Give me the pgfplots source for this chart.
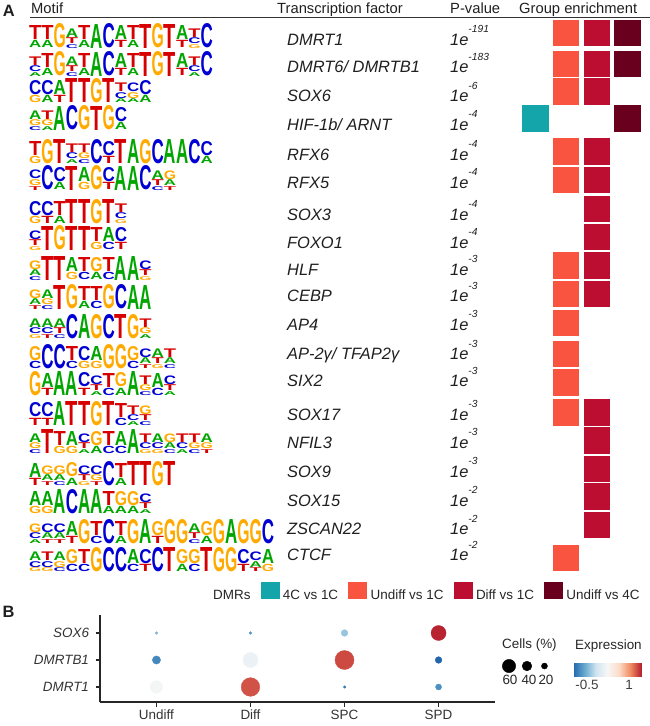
\documentclass[border=0pt]{standalone}
\usepackage{pgfplots}
\pgfplotsset{compat=1.18}
\usepackage{graphicx}
\usepackage{fontspec}
\setmainfont{Liberation Sans}

% nucleotide colours
\definecolor{ntA}{RGB}{0,165,0}
\definecolor{ntC}{RGB}{0,0,210}
\definecolor{ntG}{RGB}{255,170,0}
\definecolor{ntT}{RGB}{215,0,0}
% DMR groups
\definecolor{g4c}{RGB}{20,165,170}
\definecolor{gu1}{RGB}{248,84,64}
\definecolor{gd1}{RGB}{188,14,48}
\definecolor{gu4}{RGB}{104,0,30}

\pgfplotsset{colormap={rdbu}{rgb255=(33,102,172) rgb255=(103,169,207) rgb255=(209,229,240)
  rgb255=(247,247,247) rgb255=(253,219,199) rgb255=(239,138,98) rgb255=(178,24,43)}}

% sequence logo letters
\newcommand\lw{12.25bp}
\newcommand\ntX[2]{\resizebox{\lw}{#2}{\textcolor{nt#1}{#1}}}
\newcommand\lF[1]{\ntX{#1}{24bp}}
\newcommand\lD[2]{\vbox{\offinterlineskip\hbox{\ntX{#1}{14bp}}\kern0.8bp\hbox{\ntX{#2}{7.2bp}}}}
\newcommand\lT[3]{\vbox{\offinterlineskip\hbox{\ntX{#1}{8.6bp}}\kern0.6bp\hbox{\ntX{#2}{5.8bp}}\kern0.6bp\hbox{\ntX{#3}{3.8bp}}}}

\begin{document}
\begin{tikzpicture}
\path[use as bounding box] (0,0) rectangle (650bp,-726bp);

% ---- panel A: group enrichment
\begin{axis}[
  at={(519.65bp,0bp)}, anchor=north west,
  scale only axis, width=122.8bp, height=600bp,
  xmin=0.5, xmax=4.5, ymin=0, ymax=600, y dir=reverse,
  hide axis, clip=false,
  every axis plot/.append style={only marks, mark=square*, mark size=12.75pt},
  legend columns=-1,
  legend image code/.code={\fill[#1] (0bp,-3.2bp) rectangle (18bp,12.8bp);},
  legend style={at={(axis cs:-9.62,591.5)}, anchor=west, draw=none, fill=none,
    inner sep=0pt, nodes={inner sep=0pt}, font=\fontsize{13.5}{16}\selectfont, text=black!85,
    /tikz/every odd column/.append style={column sep=4bp},
    /tikz/every even column/.append style={column sep=10bp}},
]
\addlegendimage{empty legend}\addlegendentry{DMRs}
\addplot[color=g4c] coordinates {(1,118)};
\addlegendentry{4C vs 1C}
\addplot[color=gu1] coordinates {(2,32.5)(2,63.5)(2,91)(2,151)(2,179.5)(2,265)(2,293.5)
  (2,322.5)(2,353.5)(2,382)(2,412)(2,557.5)};
\addlegendentry{Undiff vs 1C}
\addplot[color=gd1] coordinates {(3,32.5)(3,63.5)(3,91)(3,151)(3,179.5)(3,208.5)(3,236.5)
  (3,265)(3,293.5)(3,412)(3,440)(3,468.5)(3,496)(3,524.5)};
\addlegendentry{Diff vs 1C}
\addplot[color=gu4] coordinates {(4,32.5)(4,63.5)(4,118)};
\addlegendentry{Undiff vs 4C}
\end{axis}

% ---- panel B: dot plot
\begin{axis}[
  at={(100bp,-615bp)}, anchor=north west,
  scale only axis, width=395bp, height=87bp,
  xmin=0.4, xmax=4.6, ymin=0.444, ymax=3.667,
  axis x line*=bottom, axis y line*=left,
  axis line style={-, line width=1.1bp, black!85},
  tick align=outside, major tick length=4.5bp,
  tick style={line width=1.1bp, black!85},
  xtick={1,2,3,4}, xticklabels={Undiff,Diff,SPC,SPD},
  ytick={1,2,3}, yticklabels={DMRT1,DMRTB1,SOX6},
  ticklabel style={font=\fontsize{13.5}{16}\selectfont, text=black!80},
  yticklabel style={font=\itshape\fontsize{13.5}{16}\selectfont, xshift=-3bp},
  clip=false,
  colormap name=rdbu, point meta min=-1, point meta max=1.46,
  colorbar horizontal,
  colorbar style={at={(parent axis.north east)}, anchor=north west,
    xshift=78bp, yshift=-40bp, scale only axis, width=69bp, height=13bp,
    xtick={-0.5,1}, xticklabels={-0.5,1}, axis line style={draw=none},
    major tick length=0pt, xticklabel pos=lower,
    xticklabel style={font=\fontsize{13.5}{16}\selectfont, text=black!75}},
]
\addplot[scatter, only marks, mark=*, scatter src=explicit,
  scatter/use mapped color={draw=mapped color, fill=mapped color},
  visualization depends on={\thisrow{pct} \as \pct},
  scatter/@pre marker code/.append style={/tikz/mark size={(2.4+0.183*\pct)/2}}]
  table[x=stage, y=gene, meta=expr] {
stage gene pct expr
1 3 1.5 -0.5
1 2 32 -0.8
1 1 56 0.2
2 3 1.5 -0.7
2 2 69 0.1
2 1 89 1.25
3 3 23.5 -0.4
3 2 91 1.28
3 1 0.5 -0.9
4 3 69 1.42
4 2 23.5 -1.0
4 1 20 -0.75
};
% size legend
\addplot[scatter, only marks, mark=*, scatter src=explicit,
  scatter/use mapped color={draw=black, fill=black},
  visualization depends on={\thisrow{pct} \as \pct},
  scatter/@pre marker code/.append style={/tikz/mark size={(2.4+0.183*\pct)/2}}]
  table[x=x, y=y, meta=m] {
x y pct m
4.749 1.777 60 0
4.940 1.777 40 0
5.126 1.777 20 0
};
\end{axis}

% ---- text
\begin{scope}[x=1bp, y=-1bp, every node/.style={inner sep=0pt, text=black!88}]
\node[anchor=base west, font=\bfseries\fontsize{16.5}{19}\selectfont] at (2.7,16.7) {A};
\node[anchor=base west, font=\bfseries\fontsize{16.5}{19}\selectfont] at (2.5,617) {B};
\begin{scope}[every node/.append style={anchor=base west, font=\fontsize{14.8}{17}\selectfont}]
\node at (31,13.3) {Motif};
\node at (277,13.3) {Transcription factor};
\node at (450,13.3) {P-value};
\node at (519,13.3) {Group enrichment};
\end{scope}
\draw[line width=1.3bp, black!80] (30,17.3) -- (650,17.3);

\foreach \yy/\nm/\pv in {45/DMRT1/191, 72.7/{DMRT6/ DMRTB1}/183, 101.7/SOX6/6,
  130/{HIF-1b/ ARNT}/4, 160/RFX6/4, 188.3/RFX5/4, 220/SOX3/4, 248/FOXO1/4,
  275/HLF/3, 301.7/CEBP/3, 330/AP4/3, 359.5/{AP-2γ/ TFAP2γ}/3, 386.7/SIX2/3,
  420/SOX17/3, 448/NFIL3/3, 477/SOX9/3, 506/SOX15/2, 534.5/ZSCAN22/2, 560.7/CTCF/2}{
  \node[anchor=base west, font=\itshape\fontsize{16.5}{19}\selectfont] at (287,\yy) {\nm};
  \node[anchor=base west, font=\itshape\fontsize{16.5}{19}\selectfont] at (450,\yy)
    {1e\raisebox{12.5pt}{\fontsize{10.3}{12}\selectfont -\pv}};
}

% sequence logos
\begin{scope}[every node/.append style={anchor=base west, font=\bfseries}]
\node at (29,48) {\lD TA\lD TA\lF G\lT ATC\lD TA\lF A\lF C\lD AT\lD TA\lF T\lF G\lF T\lD AT\lT TCG\lF C};
\node at (29,76) {\lT TCA\lD TA\lF G\lT ATC\lD TA\lF A\lF C\lD AT\lD TA\lF T\lF G\lF T\lD AT\lT TCA\lF C};
\node at (29,102.7) {\lD CG\lD CA\lD AT\lF T\lF T\lF G\lF T\lT TCA\lT CGA\lD CA};
\node at (29,130) {\lT AGC\lT TGA\lF A\lF C\lF G\lF T\lF G\lD CA};
\node at (29,163.3) {\lD TG\lF G\lF T\lT TCA\lT TGC\lF C\lD CT\lF T\lF A\lF G\lF C\lF A\lF A\lF C\lD CA};
\node at (29,190) {\lT CGT\lF C\lD CA\lF T\lD AG\lF G\lD CT\lF A\lF A\lF C\lT ATC\lT GAT};
\node at (29,223.3) {\lD CG\lD CT\lD TA\lF T\lF T\lF G\lF T\lT TCG};
\node at (29,250) {\lT CTG\lF T\lF G\lF T\lF T\lD TG\lD AC\lD CT};
\node at (29,280) {\lT GAC\lF T\lF T\lD AG\lD TC\lD GA\lD TC\lF A\lF A\lT CTG};
\node at (29,309) {\lT GAT\lT AGC\lF T\lF G\lD TA\lD TC\lF G\lF C\lF A\lF A};
\node at (29,338.3) {\lT ACG\lT ACT\lT ATC\lF C\lF A\lF G\lF C\lF T\lF G\lT TGA};
\node at (29,368.3) {\lD GC\lF C\lF C\lD TC\lD CG\lD AG\lF G\lF G\lD GC\lT CAT\lT ATG\lT TAC};
\node at (29,395) {\lF G\lD AT\lF A\lF A\lD CT\lT CTA\lD TC\lD GA\lF A\lT TGC\lD AC\lT CTA};
\node at (29,425) {\lD CT\lD CT\lF A\lF T\lF T\lF G\lF T\lD TC\lT TCA\lT GTC};
\node at (29,453.3) {\lT AGC\lF T\lD TG\lD AG\lT CTA\lD GA\lD TC\lD AC\lF A\lT TCG\lT ACG\lT GAC\lT TCA\lT TGC\lT AGT};
\node at (29,485) {\lD AT\lT GAT\lT GAC\lD GA\lT CTG\lT CGT\lF C\lD TA\lF T\lF T\lF G\lF T};
\node at (29,513.3) {\lD AG\lD AG\lF A\lF C\lF A\lF A\lD TA\lD GA\lD GA\lT CTA};
\node at (29,543.3) {\lT GCA\lT CAT\lT CAT\lD AT\lF G\lD TC\lF C\lD TA\lF G\lF A\lD GT\lF G\lF G\lT ATC\lD GA\lF G\lF A\lF G\lF G\lF C};
\node at (29,571.7) {\lT ACG\lT TCG\lT AGC\lD GC\lD TC\lF G\lF C\lF C\lD AC\lD CT\lF C\lF T\lD GA\lD GC\lF T\lF G\lF G\lD CT\lT CAT\lD AG};
\end{scope}

% panel B legends
\begin{scope}[every node/.append style={font=\fontsize{13.5}{16}\selectfont, text=black!85}]
\node[anchor=base west] at (502,648) {Cells (\%)};
\node[anchor=base] at (510,684) {60};
\node[anchor=base] at (529,684) {40};
\node[anchor=base] at (546,684) {20};
\node[anchor=base west] at (575,649) {Expression};
\end{scope}
\end{scope}
\end{tikzpicture}
\end{document}
